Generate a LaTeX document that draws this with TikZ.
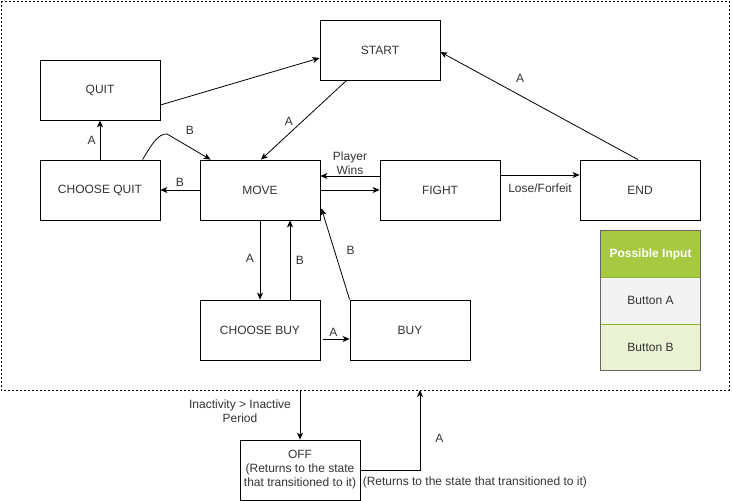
\documentclass[tikz,border=0pt]{standalone}
\usepackage{fontspec}
\setmainfont{Liberation Sans}
\usetikzlibrary{arrows.meta,calc,positioning}
\definecolor{txtgray}{HTML}{333333}
\definecolor{leggreen}{HTML}{A7C942}
\definecolor{legline}{HTML}{8CB33A}
\definecolor{legrowa}{HTML}{F3F3F3}
\definecolor{legrowb}{HTML}{EAF2D3}
\definecolor{legframe}{HTML}{666666}
\tikzset{
    state/.style={draw, line width=0.8pt, minimum width=120pt, minimum height=60pt,
        inner sep=0pt, text=txtgray, font=\fontsize{12}{14}\selectfont, align=center},
    trans/.style={line width=0.8pt, -{Stealth[length=7pt,width=6pt,inset=2pt]}},
    lbl/.style={text=txtgray, font=\fontsize{12}{14}\selectfont, align=center, inner sep=1pt},
    legrow/.style={minimum width=99pt, minimum height=46.3pt, inner sep=0pt,
        text=txtgray, font=\fontsize{12}{14}\selectfont}
}
\begin{document}
\begin{tikzpicture}[x=1pt,y=-1pt]
        \useasboundingbox (0,0) rectangle (732,501);
        %% Boundary
        \draw[dashed, dash pattern=on 2pt off 2pt, line width=0.8pt] (1,1) rectangle (729,390);
        %% States
        \node[state] (start) at (380,50) {START};
        \node[state] (quit) at (100,90) {QUIT};
        \node[state] (cquit) at (100,190) {CHOOSE QUIT};
        \node[state] (move) at (260,190) {MOVE};
        \node[state] (fight) at (440,190) {FIGHT};
        \node[state] (end) at (640,190) {END};
        \node[state] (cbuy) at (260,330) {CHOOSE BUY};
        \node[state] (buy) at (410,330) {BUY};
        \node[state] (off) at (300,470) {OFF\\(Returns to the state\\that transitioned to it)};
        %% Transitions
        \draw[trans] ($(quit.east)+(0,15)$) -- ($(start.west)+(0,8)$);
        \draw[trans] ($(start.south west)+(27,0)$) -- node[lbl, xshift=-15pt, yshift=-1pt] {A} ($(move.north)+(1,0)$);
        \draw[trans] ($(end.north)+(-2,0)$) -- node[lbl, xshift=-19pt, yshift=27pt] {A} ($(start.east)+(0,2)$);
        \draw[trans] (cquit.north) -- node[lbl, left=3pt] {A} (quit.south);
        \draw[trans] ($(cquit.north west)+(103,0)$) .. controls (150,147) and (158,133) .. (167,134)
            node[lbl, xshift=23pt, yshift=4pt] {B} -- ($(move.north west)+(11,0)$);
        \draw[trans] (move.west) -- node[lbl, above=2pt] {B} (cquit.east);
        \draw[trans] ($(fight.west)+(0,-14)$) -- node[lbl, above=0pt] {Player\\Wins} ($(move.east)+(0,-14)$);
        \draw[trans] (move.east) -- (fight.west);
        \draw[trans] ($(fight.east)+(0,-15)$) -- node[lbl, below=7pt] {Lose/Forfeit} ($(end.west)+(0,-15)$);
        \draw[trans] (move.south) -- node[lbl, xshift=-10pt, yshift=2pt] {A} (cbuy.north);
        \draw[trans] ($(cbuy.north)+(30,0)$) -- node[lbl, xshift=10pt, yshift=0pt] {B} ($(move.south)+(30,0)$);
        \draw[trans] (buy.north west) -- node[lbl, xshift=15pt, yshift=4pt] {B} ($(move.south east)+(1,-12)$);
        \draw[trans] ($(cbuy.east)+(3,9)$) -- node[lbl, above=1pt, xshift=-3pt] {A} ($(buy.west)+(0,9)$);
        %% Off state
        \coordinate (inact) at (300,390);
        \coordinate (back) at (420,390);
        \draw[trans] (inact) -- (off.north);
        \node[lbl, anchor=center] (inactlbl) at (240,411) {Inactivity > Inactive\\Period};
        \draw[trans] (off.east) -- node[lbl, pos=0, anchor=north west, yshift=-5pt, xshift=1pt]
            {(Returns to the state that transitioned to it)} (back |- off.east) -- node[lbl, right=14pt, pos=0.4] {A} (back);
        %% Legend
        \node[legrow, fill=leggreen, text=white, font=\fontsize{12}{14}\selectfont\bfseries] (leghead) at (650.5,254.2) {Possible Input};
        \node[legrow, fill=legrowa, below=0pt of leghead] (legbtna) {Button A};
        \node[legrow, fill=legrowb, below=0pt of legbtna] (legbtnb) {Button B};
        \draw[legline, line width=0.8pt] (legbtna.north west) -- (legbtna.north east);
        \draw[legline, line width=0.8pt] (legbtnb.north west) -- (legbtnb.north east);
        \draw[legframe, line width=1pt] (leghead.north west) rectangle (legbtnb.south east);
    \end{tikzpicture}
\end{document}
